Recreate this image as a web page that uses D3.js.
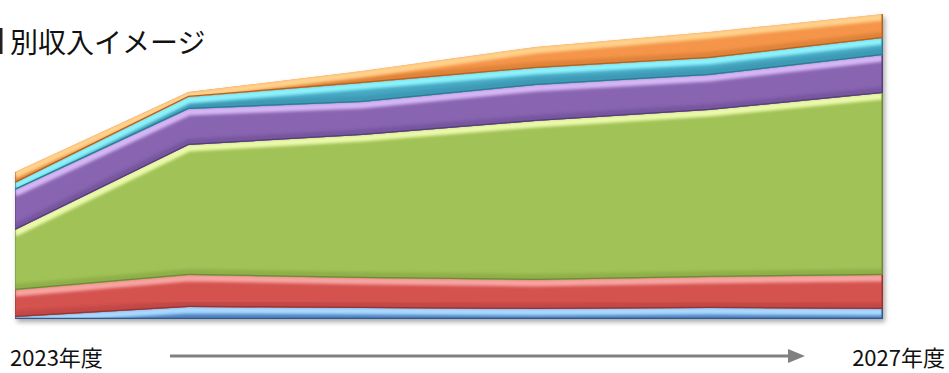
<!DOCTYPE html>
<html><head><meta charset="utf-8">
<script src="https://cdn.jsdelivr.net/npm/d3@7"></script>
<style>html,body{margin:0;padding:0;background:#fff;overflow:hidden}</style>
</head><body>
<svg id="chart" width="949" height="373"></svg>
<script>
// ---- data (arbitrary units) ----
const categories = ["P1","P2","P3","P4","P5","P6"];
const seriesNames = ["系列1","系列2","系列3","系列4","系列5","系列6"];
const blueValues   = [2, 12, 11, 10, 11, 10];
const redValues    = [27, 32, 30, 29, 31, 34];
const greenValues  = [60, 130, 143, 159, 167, 182];
const purpleValues = [40, 36, 33, 36, 35, 38];
const cyanValues   = [7, 12, 19, 17, 17, 17];
const orangeValues = [11, 5, 12, 21, 26, 24];
const axisLabels = ["2023年度", "2027年度"];
const titleText = "別収入イメージ";

const palette = [
  {base:"#4F82C0", light:"#A9D9FF", dark:"#2D5A90"},
  {base:"#D4524F", light:"#F7A4A1", dark:"#9B3330"},
  {base:"#A1C256", light:"#EAF9AA", dark:"#6C8B33"},
  {base:"#8965B1", light:"#D6B6F4", dark:"#573D7C"},
  {base:"#47A8C4", light:"#8CF2FB", dark:"#2A7C94"},
  {base:"#F5954A", light:"#FFD28C", dark:"#B5621F"}
];

const allSeries = [blueValues, redValues, greenValues, purpleValues, cyanValues, orangeValues];
const table = categories.map((c, i) => {
  const row = {cat: c};
  seriesNames.forEach((s, j) => row[s] = allSeries[j][i]);
  return row;
});

const svg = d3.select("#chart");
const x = d3.scalePoint().domain(categories).range([15, 883]);
const y = d3.scaleLinear().domain([0, 310]).range([319, 9]);

const layers = d3.stack().keys(seriesNames)(table);

const defs = svg.append("defs");
const shadow = defs.append("filter").attr("id","shadow").attr("x","-5%").attr("y","-10%").attr("width","115%").attr("height","130%");
shadow.append("feDropShadow").attr("dx",2).attr("dy",3).attr("stdDeviation",2.5).attr("flood-color","#000").attr("flood-opacity",0.35);
const blur = defs.append("filter").attr("id","blur").attr("x","-5%").attr("y","-50%").attr("width","110%").attr("height","200%");
blur.append("feGaussianBlur").attr("stdDeviation",1.6);

const area = d3.area().x(d => x(d.data.cat)).y0(d => y(d[0])).y1(d => y(d[1]));
const topLine = d3.line().x(d => x(d.data.cat)).y(d => y(d[1]));
const botLine = d3.line().x(d => x(d.data.cat)).y(d => y(d[0]));

const g = svg.append("g").attr("filter","url(#shadow)");

layers.forEach((layer, i) => {
  const col = palette[i];
  const cid = "clip" + i;
  defs.append("clipPath").attr("id", cid).append("path").attr("d", area(layer));
  const lg = g.append("g");
  lg.append("path").attr("d", area(layer)).attr("fill", col.base);
  const inner = lg.append("g").attr("clip-path", `url(#${cid})`);
  inner.append("path").attr("d", botLine(layer)).attr("fill","none")
    .attr("stroke", col.dark).attr("stroke-opacity",0.35).attr("stroke-width",12)
    .attr("filter","url(#blur)");
  inner.append("path").attr("d", topLine(layer)).attr("fill","none")
    .attr("stroke", col.light).attr("stroke-width",7).attr("transform","translate(0,3)")
    .attr("filter","url(#blur)");
  inner.append("path").attr("d", botLine(layer)).attr("fill","none")
    .attr("stroke", col.dark).attr("stroke-width",2.5);
  const last = layer[layer.length-1];
  inner.append("line").attr("x1", x(last.data.cat)).attr("x2", x(last.data.cat))
    .attr("y1", y(last[1])).attr("y2", y(last[0]))
    .attr("stroke", col.dark).attr("stroke-width",3);
  const first = layer[0];
  inner.append("line").attr("x1", x(first.data.cat)).attr("x2", x(first.data.cat))
    .attr("y1", y(first[1])).attr("y2", y(first[0]))
    .attr("stroke", col.dark).attr("stroke-opacity",0.5).attr("stroke-width",2);
});

// title (the reference cuts its first glyph at the left edge; only its last stroke shows)
svg.append("rect").attr("x", 0).attr("y", 28).attr("width", 2.5).attr("height", 26).attr("fill", "#222");
svg.append("text").attr("x", 10).attr("y", 53)
  .attr("font-family", "'Noto Sans CJK JP', sans-serif").attr("font-size", 28)
  .attr("fill", "#111").text(titleText);

// bottom labels + arrow
const labelFont = "'Noto Sans CJK JP', sans-serif";
svg.append("text").attr("x", 10).attr("y", 366).attr("font-family", labelFont)
  .attr("font-size", 22).attr("fill", "#111").text(axisLabels[0]);
svg.append("text").attr("x", 945).attr("y", 366).attr("text-anchor","end").attr("font-family", labelFont)
  .attr("font-size", 22).attr("fill", "#111").text(axisLabels[1]);
svg.append("line").attr("x1",170).attr("x2",790).attr("y1",356).attr("y2",356)
  .attr("stroke","#808080").attr("stroke-width",3);
svg.append("path").attr("d", d3.line()([[788,349],[805,356],[788,363]]) + "Z").attr("fill","#808080");
</script>
</body></html>
